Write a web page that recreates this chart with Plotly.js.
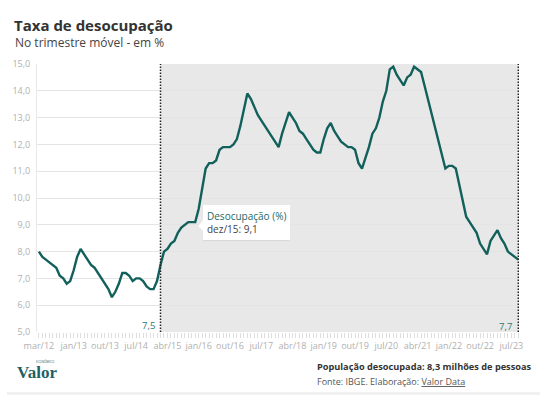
<!DOCTYPE html>
<html><head><meta charset="utf-8">
<script src="https://cdn.plot.ly/plotly-3.0.1.min.js"></script>
<style>html,body{margin:0;padding:0;background:#fff;} #chart{width:552px;height:395px;}</style>
</head><body><div id="chart"></div>
<script>
// ---- data ----
const monthNames = ['jan','fev','mar','abr','mai','jun','jul','ago','set','out','nov','dez'];
const rate2012 = [8.0, 7.8, 7.7, 7.6, 7.5, 7.4, 7.1, 7.0, 6.8, 6.9]; // mar..dez
const rate2013 = [7.3, 7.8, 8.1, 7.9, 7.7, 7.5, 7.4, 7.2, 7.0, 6.8, 6.6, 6.3];
const rate2014 = [6.5, 6.8, 7.2, 7.2, 7.1, 6.9, 7.0, 7.0, 6.9, 6.7, 6.6, 6.6];
const rate2015 = [6.9, 7.5, 8.0, 8.1, 8.3, 8.4, 8.7, 8.9, 9.0, 9.1, 9.1, 9.1];
const rate2016 = [9.6, 10.3, 11.1, 11.3, 11.3, 11.4, 11.8, 11.9, 11.9, 11.9, 12.0, 12.2];
const rate2017 = [12.7, 13.3, 13.9, 13.7, 13.4, 13.1, 12.9, 12.7, 12.5, 12.3, 12.1, 11.9];
const rate2018 = [12.4, 12.8, 13.2, 13.0, 12.8, 12.5, 12.4, 12.2, 12.0, 11.8, 11.7, 11.7];
const rate2019 = [12.2, 12.6, 12.8, 12.5, 12.3, 12.1, 12.0, 11.9, 11.9, 11.8, 11.3, 11.1];
const rate2020 = [11.5, 11.9, 12.4, 12.6, 13.0, 13.6, 14.0, 14.8, 14.9, 14.6, 14.4, 14.2];
const rate2021 = [14.5, 14.6, 14.9, 14.8, 14.7, 14.2, 13.7, 13.1, 12.6, 12.1, 11.6, 11.1];
const rate2022 = [11.2, 11.2, 11.1, 10.5, 9.8, 9.3, 9.1, 8.9, 8.7, 8.3, 8.1, 7.9];
const rate2023 = [8.4, 8.6, 8.8, 8.5, 8.3, 8.0, 7.9, 7.8, 7.7]; // jan..set
const tickLabels = ['mar/12','jan/13','out/13','jul/14','abr/15','jan/16','out/16','jul/17',
                    'abr/18','jan/19','out/19','jul/20','abr/21','jan/22','out/22','jul/23'];
const shadeStart = 'fev/15';
const tooltipMonth = 'dez/15';
const seriesName = 'Desocupação (%)';

// ---- build ----
const yearly = [[2012,rate2012,2],[2013,rate2013,0],[2014,rate2014,0],[2015,rate2015,0],[2016,rate2016,0],
  [2017,rate2017,0],[2018,rate2018,0],[2019,rate2019,0],[2020,rate2020,0],[2021,rate2021,0],[2022,rate2022,0],[2023,rate2023,0]];
const categories = [], values = [];
yearly.forEach(([yr, arr, m0]) => arr.forEach((v, i) => {
  categories.push(monthNames[m0 + i] + '/' + String(yr).slice(2));
  values.push(v);
}));
const idx = categories.map((_, i) => i);
const fmt = v => v.toFixed(1).replace('.', ',');
const last = values.length - 1;
const iShade = categories.indexOf(shadeStart);
const iTip = categories.indexOf(tooltipMonth);
const xRange = [-0.55, last + 0.2];
const teal = '#12605b';
const L = 37, T = 64, W = 482, H = 268;
const px = x => (x - L) / W, py = y => (T + H - y) / H;

const trace = {
  x: idx, y: values, type: 'scatter', mode: 'lines', name: seriesName,
  line: {color: teal, width: 2.4}, hoverinfo: 'skip'
};

const layout = {
  width: 552, height: 395,
  margin: {l: L, r: 552 - L - W, t: T, b: 395 - T - H},
  paper_bgcolor: '#fff', plot_bgcolor: '#fff',
  separators: ',.',
  showlegend: false,
  font: {family: 'Open Sans, sans-serif', color: '#333'},
  title: {text: '<b>Taxa de desocupação</b>', xref: 'container', yref: 'container',
    x: 14/552, xanchor: 'left', y: 1 - 26/395, yanchor: 'middle',
    font: {family: 'Open Sans', size: 15, color: '#333'}},
  xaxis: {
    range: xRange, showgrid: false, zeroline: false, showline: false,
    tickvals: tickLabels.map(t => categories.indexOf(t)), ticktext: tickLabels,
    ticks: 'outside', ticklen: 5, tickcolor: '#dedede', tickwidth: 1,
    minor: {dtick: 1, tick0: 0, ticks: 'outside', ticklen: 5, tickcolor: '#dedede', tickwidth: 1, showgrid: false},
    tickfont: {size: 9, color: '#b0b0b0'}, fixedrange: true
  },
  yaxis: {
    range: [5, 15], dtick: 1, tickformat: '.1f', showgrid: true, gridcolor: '#e4e4e4', gridwidth: 1,
    zeroline: false, showline: true, linecolor: '#e8e8e8', linewidth: 1, ticks: '', ticklabelstandoff: 4,
    tickfont: {size: 9, color: '#b0b0b0'}, fixedrange: true
  },
  shapes: [
    {type: 'rect', xref: 'x', yref: 'paper', x0: iShade, x1: xRange[1], y0: 0, y1: 1,
      fillcolor: '#e8e8e8', line: {width: 0}, layer: 'below'},
    {type: 'line', xref: 'x', yref: 'paper', x0: iShade, x1: iShade, y0: 0, y1: 1,
      line: {color: '#222', width: 1.5, dash: '1.5px,1.5px'}, layer: 'above'},
    {type: 'line', xref: 'x', yref: 'paper', x0: last, x1: last, y0: 0, y1: 1,
      line: {color: '#222', width: 1.5, dash: '1.5px,1.5px'}, layer: 'above'},
    // tooltip shadow
    {type: 'rect', xref: 'x', yref: 'y', xsizemode: 'pixel', ysizemode: 'pixel',
      xanchor: iTip, yanchor: values[iTip], x0: 8, x1: 94, y0: 16, y1: -19,
      fillcolor: 'rgba(0,0,0,0.07)', line: {width: 0}, layer: 'above'},
    // tooltip notch
    {type: 'path', xref: 'x', yref: 'y', xsizemode: 'pixel', ysizemode: 'pixel',
      xanchor: iTip, yanchor: values[iTip], path: 'M 9,3 L 3,-4 L 9,-10 Z',
      fillcolor: '#fff', line: {width: 0}, layer: 'above'},
    // footer band
    {type: 'rect', xref: 'paper', yref: 'paper', x0: px(7), x1: px(540), y0: py(395), y1: py(392),
      fillcolor: '#f1f1f1', line: {width: 0}}
  ],
  annotations: [
    {xref: 'paper', yref: 'paper', x: px(14), y: py(42), xanchor: 'left', yanchor: 'middle', showarrow: false,
      xshift: -1.5, text: 'No trimestre móvel - em %', font: {size: 12, color: '#444'}},
    {xref: 'x', yref: 'paper', x: iShade, y: py(325), xanchor: 'right', yanchor: 'middle', xshift: -4, showarrow: false,
      text: fmt(values[iShade]), font: {size: 9.5, color: '#2e7a76'}},
    {xref: 'x', yref: 'paper', x: last, y: py(326), xanchor: 'right', yanchor: 'middle', xshift: -4, showarrow: false,
      text: fmt(values[last]), font: {size: 9.5, color: '#2e7a76'}},
    {xref: 'x', yref: 'y', x: iTip, y: values[iTip], xanchor: 'left', yanchor: 'middle', xshift: 8,
      showarrow: false, align: 'left', bgcolor: '#fff', borderpad: 4, borderwidth: 0,
      text: '<span style="color:#1d6a65">' + seriesName + '</span><br>' + tooltipMonth + ': ' + fmt(values[iTip]),
      font: {size: 10, color: '#444'}},
    // footer
    {xref: 'paper', yref: 'paper', x: px(316), y: py(366), xanchor: 'left', yanchor: 'middle', showarrow: false,
      xshift: -1, text: '<b>População desocupada: 8,3 milhões de pessoas</b>', font: {size: 9.2, color: '#333'}},
    {xref: 'paper', yref: 'paper', x: px(316), y: py(381), xanchor: 'left', yanchor: 'middle', showarrow: false,
      xshift: -1, text: 'Fonte: IBGE. Elaboração: <u>Valor Data</u>', font: {size: 9, color: '#555'}},
    {xref: 'paper', yref: 'paper', x: px(15), y: py(372), xanchor: 'left', yanchor: 'middle', showarrow: false,
      text: '<b>Valor</b>', font: {family: 'Liberation Serif, serif', size: 17, color: '#1f5f66'}},
    {xref: 'paper', yref: 'paper', x: px(34), y: py(361), xanchor: 'left', yanchor: 'middle', showarrow: false,
      text: 'ECONÔMICO', font: {size: 3, color: '#1f5f66'}}
  ]
};

Plotly.newPlot('chart', [trace], layout, {displayModeBar: false, staticPlot: true});
</script></body></html>
